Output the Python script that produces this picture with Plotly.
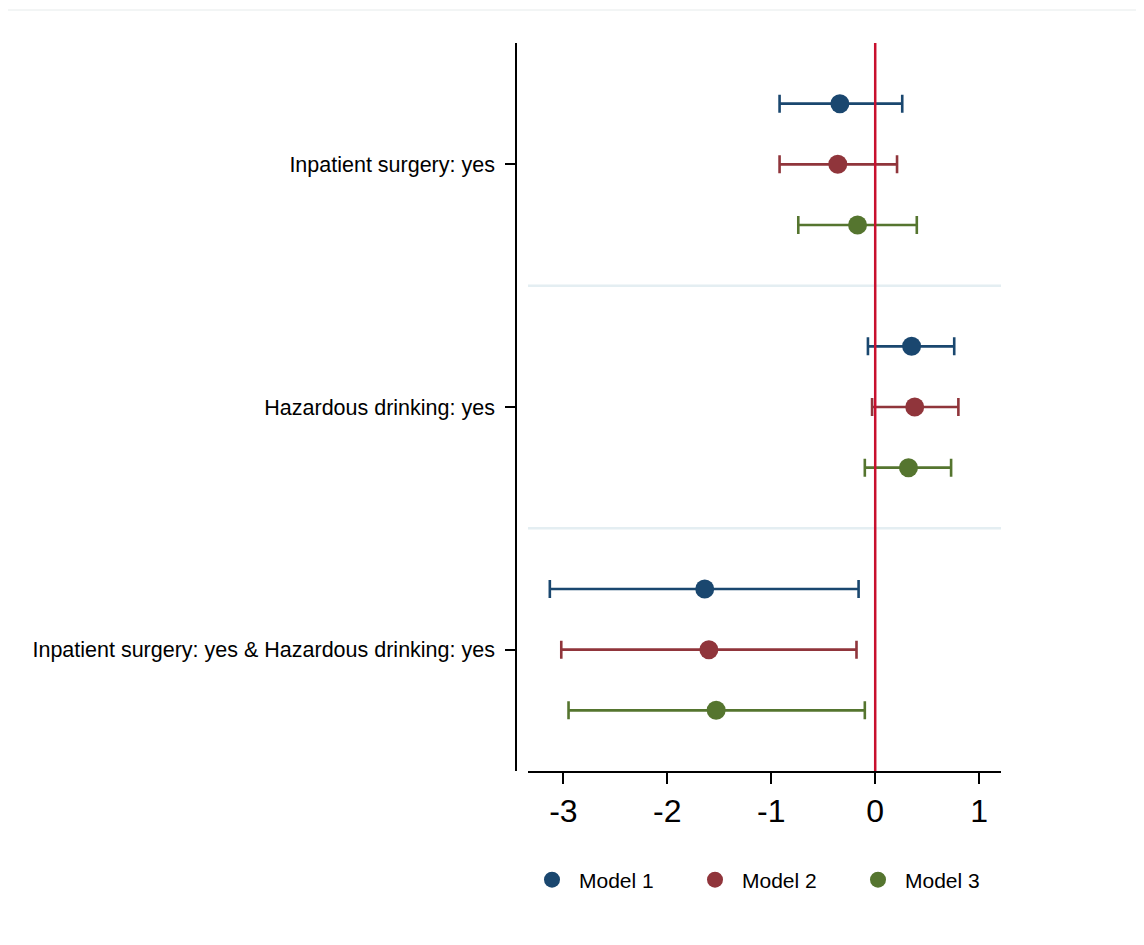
import plotly.graph_objects as go
import numpy as np

categories = ["Inpatient surgery: yes", "Hazardous drinking: yes",
              "Inpatient surgery: yes & Hazardous drinking: yes"]
models = ["Model 1", "Model 2", "Model 3"]
colors = ["#1a476f", "#90353b", "#55752f"]

# point estimates and confidence limits per model (order of categories)
est_m1 = [-0.34, 0.35, -1.64]
lo_m1 = [-0.92, -0.07, -3.13]
hi_m1 = [0.26, 0.76, -0.16]

est_m2 = [-0.36, 0.38, -1.60]
lo_m2 = [-0.92, -0.03, -3.02]
hi_m2 = [0.21, 0.80, -0.18]

est_m3 = [-0.17, 0.32, -1.53]
lo_m3 = [-0.74, -0.10, -2.95]
hi_m3 = [0.40, 0.73, -0.10]

x_ticks = [-3, -2, -1, 0, 1]

series = [(est_m1, lo_m1, hi_m1), (est_m2, lo_m2, hi_m2), (est_m3, lo_m3, hi_m3)]
offsets = [-0.25, 0.0, 0.25]

fig = go.Figure()
base = np.arange(len(categories))
for name, col, (est, lo, hi), off in zip(models, colors, series, offsets):
    est = np.array(est); lo = np.array(lo); hi = np.array(hi)
    fig.add_trace(go.Scatter(
        x=est, y=base + off, mode="markers", name=name,
        marker=dict(color=col, size=19, symbol="circle"),
        error_x=dict(type="data", symmetric=False, array=hi - est,
                     arrayminus=est - lo, color=col, thickness=2.6, width=9),
    ))

W, H = 1144, 945
L, R, T, B = 508, 104, 35, 182
pw = W - L - R          # paper width (532)
ph = H - T - B          # plot height (728)
dom0 = 12 / pw
dom1 = (993 - L) / pw

shapes = []
# reference line at 0
shapes.append(dict(type="line", xref="x", yref="paper", x0=0, x1=0, y0=0, y1=1,
                   line=dict(color="#c8102e", width=2.5), layer="above"))
# separators
for s in [0.5, 1.5]:
    shapes.append(dict(type="line", xref="x domain", yref="y", x0=0, x1=1, y0=s, y1=s,
                       line=dict(color="#e4eef2", width=2.5), layer="below"))
# top light border line
ytop = (763 - 2) / ph
shapes.append(dict(type="line", xref="paper", yref="paper",
                   x0=(-5 - L) / pw, x1=(W - L) / pw, y0=ytop, y1=ytop,
                   line=dict(color="#e6ebeb", width=1)))

fig.update_layout(
    width=W, height=H,
    margin=dict(l=L, r=R, t=T, b=B, pad=0),
    paper_bgcolor="white", plot_bgcolor="white",
    font=dict(family="Liberation Sans, Arial, sans-serif", color="black", size=21),
    showlegend=True,
    legend=dict(orientation="h", x=(517 - L) / pw, xanchor="left",
                y=(763 - 872) / ph, yanchor="middle",
                font=dict(size=21), entrywidth=104, itemwidth=44,
                itemsizing="trace"),
    shapes=shapes,
    xaxis=dict(domain=[dom0, dom1], range=[-3.34, 1.21], tickvals=x_ticks,
               ticktext=[str(v) for v in x_ticks],
               showgrid=False, zeroline=False, showline=True, linecolor="black",
               linewidth=1.5, ticks="outside", ticklen=11, tickwidth=1.5,
               tickcolor="black", tickfont=dict(size=32), anchor="y"),
    yaxis=dict(range=[2.5, -0.5], tickvals=list(base), ticktext=categories,
               showgrid=False, zeroline=False, showline=True, linecolor="black",
               linewidth=1.5, ticks="outside", ticklen=10, tickwidth=1.5,
               tickcolor="black", tickfont=dict(size=21.5), anchor="free", position=0,
               ticklabelstandoff=6),
)

fig.write_html("out.html")
